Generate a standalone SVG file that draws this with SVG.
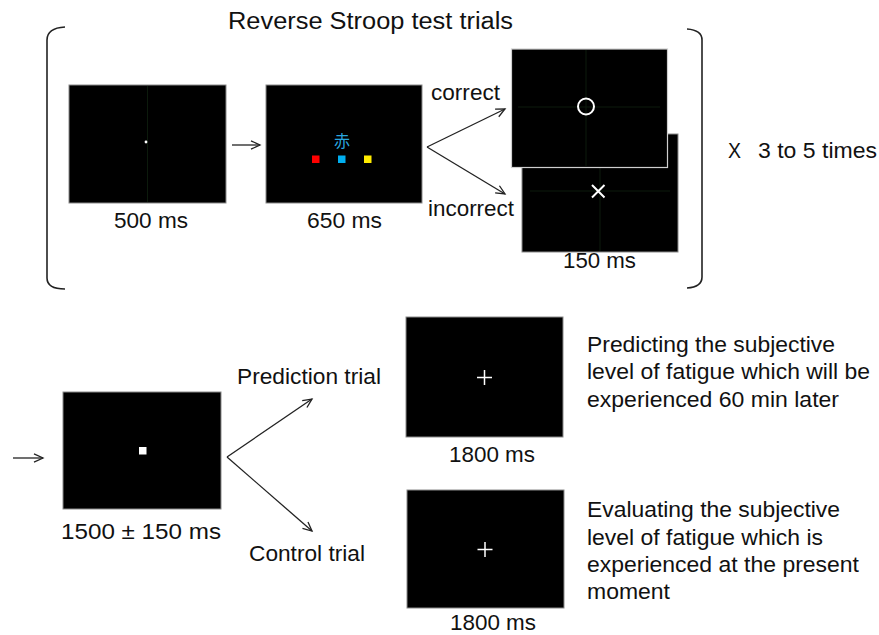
<svg xmlns="http://www.w3.org/2000/svg" width="879" height="635" viewBox="0 0 879 635">
<defs>
<style>
.t{font-family:"Liberation Sans",Arial,sans-serif;font-size:21.5px;fill:#111}
.ti{font-family:"Liberation Sans",Arial,sans-serif;font-size:23.5px;fill:#111}
.scr{fill:#000;stroke:#8a8a8a;stroke-width:1}
.grid{stroke:#0c1a0c;stroke-width:1}
.conn{stroke:#222;stroke-width:1.3;fill:none;marker-end:url(#ah)}
.br{stroke:#222;stroke-width:1.6;fill:none}
.wh{stroke:#fff;fill:none}
</style>
<marker id="ah" markerUnits="userSpaceOnUse" markerWidth="12" markerHeight="12" refX="10" refY="5" orient="auto" viewBox="0 0 12 10">
<path d="M1,0.8 L10,5 L1,9.2" fill="none" stroke="#222" stroke-width="1.3"/>
</marker>
</defs>
<rect width="879" height="635" fill="#fff"/>

<text class="ti" x="228" y="29" textLength="285" lengthAdjust="spacingAndGlyphs">Reverse Stroop test trials</text>

<g id="brackets">
<path class="br" d="M65,27 Q47,28 47,40 L47,278 Q47,289 65,289"/>
<path class="br" d="M687,29 Q702,30 702,40 L702,277 Q702,287 687,288"/>
</g>

<g id="fixation1">
<rect class="scr" x="69" y="85" width="157" height="118"/>
<line class="grid" x1="147.5" y1="86" x2="147.5" y2="202"/>
<circle cx="146" cy="142" r="1.4" fill="#fff"/>
<text class="t" x="114" y="228" textLength="74" lengthAdjust="spacingAndGlyphs">500 ms</text>
</g>

<g id="stroop">
<rect class="scr" x="266" y="85" width="156" height="118"/>
<text x="342" y="147" text-anchor="middle" style="font-family:'Noto Sans CJK JP','Noto Sans CJK SC',sans-serif;font-size:16px;fill:#2aa6df">赤</text>
<rect x="312" y="155.5" width="7.5" height="7.5" fill="#f00"/>
<rect x="338" y="155.5" width="7.5" height="7.5" fill="#00aeef"/>
<rect x="364" y="155.5" width="7.5" height="7.5" fill="#ffeb00"/>
<text class="t" x="307" y="228" textLength="75" lengthAdjust="spacingAndGlyphs">650 ms</text>
</g>

<g id="incorrect-screen">
<rect class="scr" x="522" y="134" width="156" height="118"/>
<line class="grid" x1="600" y1="135" x2="600" y2="251"/>
<line class="grid" x1="530" y1="191" x2="670" y2="191"/>
<path class="wh" stroke-width="2" d="M592,185 L604.5,197.5 M604.5,185 L592,197.5"/>
<text class="t" x="563" y="268" textLength="73" lengthAdjust="spacingAndGlyphs">150 ms</text>
</g>

<g id="correct-screen">
<rect x="511.5" y="49" width="156" height="118.5" fill="#000" stroke="#cfcfcf" stroke-width="1.2"/>
<line class="grid" x1="586" y1="50" x2="586" y2="166"/>
<line class="grid" x1="518" y1="107" x2="660" y2="107"/>
<circle class="wh" stroke-width="2" cx="586" cy="106.5" r="8"/>
</g>

<g id="repeat-label">
<text class="t" x="728" y="158" textLength="13" lengthAdjust="spacingAndGlyphs" style="font-weight:300">X</text>
<text class="t" x="758" y="158" textLength="119" lengthAdjust="spacingAndGlyphs">3 to 5 times</text>
</g>

<g id="fixation2">
<rect class="scr" x="63" y="392" width="158" height="117"/>
<rect x="139" y="447" width="7.5" height="7.5" fill="#fff"/>
<text class="t" x="61" y="539" textLength="160" lengthAdjust="spacingAndGlyphs">1500 ± 150 ms</text>
</g>

<g id="prediction">
<rect class="scr" x="406" y="317" width="157" height="120"/>
<path class="wh" stroke-width="1.5" d="M477,377.5 L492,377.5 M484.5,370 L484.5,385"/>
<text class="t" x="449" y="462" textLength="86" lengthAdjust="spacingAndGlyphs">1800 ms</text>
<text class="t" x="587" y="352" textLength="248" lengthAdjust="spacingAndGlyphs">Predicting the subjective</text>
<text class="t" x="587" y="379" textLength="283" lengthAdjust="spacingAndGlyphs">level of fatigue which will be</text>
<text class="t" x="587" y="407" textLength="252" lengthAdjust="spacingAndGlyphs">experienced 60 min later</text>
</g>

<g id="control">
<rect class="scr" x="407" y="490" width="157" height="118"/>
<path class="wh" stroke-width="1.5" d="M477.5,549.5 L492.5,549.5 M485,542 L485,557"/>
<text class="t" x="450" y="630" textLength="86" lengthAdjust="spacingAndGlyphs">1800 ms</text>
<text class="t" x="587" y="517" textLength="253" lengthAdjust="spacingAndGlyphs">Evaluating the subjective</text>
<text class="t" x="587" y="545" textLength="236" lengthAdjust="spacingAndGlyphs">level of fatigue which is</text>
<text class="t" x="587" y="572" textLength="272" lengthAdjust="spacingAndGlyphs">experienced at the present</text>
<text class="t" x="587" y="599" textLength="83" lengthAdjust="spacingAndGlyphs">moment</text>
</g>

<g id="branch-labels">
<text class="t" x="431" y="100" textLength="69" lengthAdjust="spacingAndGlyphs">correct</text>
<text class="t" x="428" y="216" textLength="86" lengthAdjust="spacingAndGlyphs">incorrect</text>
<text class="t" x="237" y="384" textLength="144" lengthAdjust="spacingAndGlyphs">Prediction trial</text>
<text class="t" x="249" y="561" textLength="116" lengthAdjust="spacingAndGlyphs">Control trial</text>
</g>

<g id="connectors">
<line class="conn" x1="232" y1="145" x2="260" y2="145"/>
<line class="conn" x1="427" y1="147" x2="505" y2="109"/>
<line class="conn" x1="427" y1="147" x2="505" y2="194"/>
<line class="conn" x1="13" y1="458" x2="43" y2="458"/>
<line class="conn" x1="227" y1="457" x2="312" y2="399"/>
<line class="conn" x1="227" y1="457" x2="312" y2="531"/>
</g>
</svg>
